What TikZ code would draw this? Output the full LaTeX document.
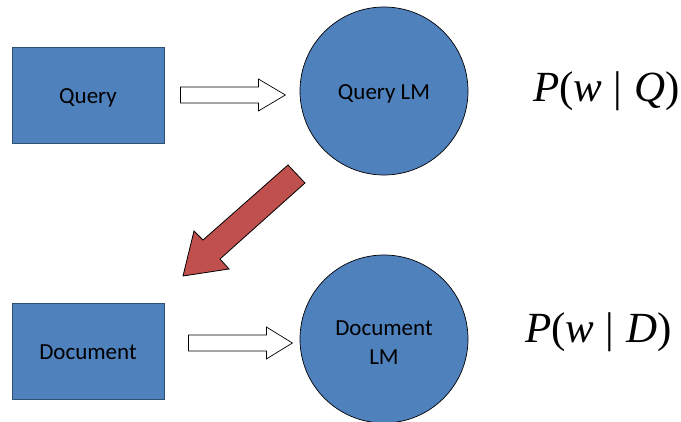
\documentclass[tikz,border=0pt]{standalone}
\usepackage{fontspec}
\setmainfont{Carlito}
\newfontfamily\tms{Liberation Serif}
\usetikzlibrary{calc}
\definecolor{officeblue}{HTML}{4F81BD}
\definecolor{officered}{HTML}{C0504D}
\definecolor{edgeblue}{HTML}{2F4F74}
\newcommand{\probof}[1]{{\tms\fontsize{43}{45}\selectfont\itshape P\upshape(\itshape w\hspace{11pt}\upshape|\hspace{12pt}\itshape #1\upshape)}}
\begin{document}
\begin{tikzpicture}[x=1pt,y=-1pt,
  box/.style={draw=edgeblue,line width=0.8pt,fill=officeblue,minimum width=152pt,minimum height=96pt,inner sep=0pt,text height=18pt,text depth=0pt,font=\fontsize{23}{28}\selectfont},
  lmcircle/.style={circle,draw=black,line width=0.7pt,fill=officeblue,minimum size=168pt,inner sep=0pt,align=center,font=\fontsize{23}{29}\selectfont},
  hollowarrow/.style={draw=black,line width=0.7pt,fill=white,line join=miter},
  redarrow/.style={draw=black,line width=0.8pt,fill=officered,line join=miter}]
\useasboundingbox (0,0) rectangle (681,422);
% nodes
\node[box] (query) at (88,95) {Query};
\node[lmcircle,text height=18pt,text depth=0pt] (qlm) at (384,91) {Query LM};
\node[box] (doc) at (88,351) {Document};
\node[lmcircle] (dlm) at (384,339) {\rule{0pt}{22pt}Document\\LM};
\node[anchor=base west,inner sep=0pt] (pq) at (533,102) {\probof{Q}};
\node[anchor=base west,inner sep=0pt] (pd) at (525,343) {\probof{D}};
% white block arrows between boxes and models
\coordinate (a1) at ($(query.east)+(16,-8)$);
\coordinate (a2) at ($(doc.east)+(24,-16)$);
\draw[hollowarrow] (a1) -- ++(78,0) -- ++(0,-8) -- ++(27,16) -- ++(-27,16) -- ++(0,-8) -- ++(-78,0) -- cycle;
\draw[hollowarrow] (a2) -- ++(78,0) -- ++(0,-8) -- ++(26,16) -- ++(-26,16) -- ++(0,-8) -- ++(-78,0) -- cycle;
% red block arrow from the query model toward the document
\draw[redarrow] (288,165) -- (305,183) -- (220,259) -- (229,269) -- (183,276) -- (194,231) -- (203,240) -- cycle;
\end{tikzpicture}
\end{document}
